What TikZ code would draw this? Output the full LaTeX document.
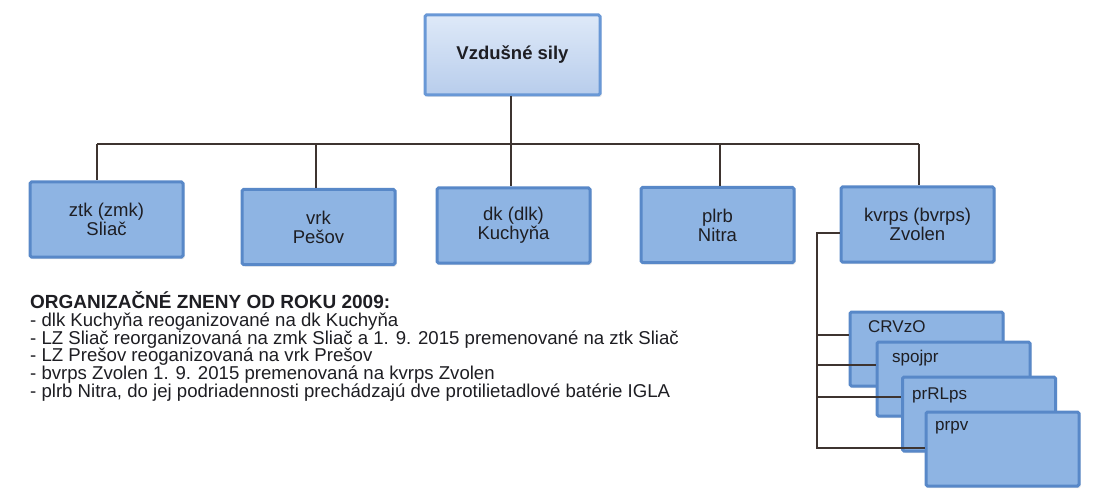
\documentclass[tikz,border=0pt]{standalone}
\usepackage{fontspec}
\setmainfont{Liberation Sans}
\usetikzlibrary{shadows}
\definecolor{boxfill}{RGB}{142,180,227}
\definecolor{boxline}{RGB}{88,136,200}
\definecolor{topfillA}{RGB}{222,233,248}
\definecolor{topfillB}{RGB}{184,205,236}
\definecolor{topline}{RGB}{105,152,214}
\definecolor{conn}{RGB}{62,52,48}
\definecolor{txt}{RGB}{30,30,35}
\tikzset{
  unitbox/.style={draw=boxline, fill=boxfill, line width=3pt, rounded corners=1.5pt,
    minimum width=153pt, minimum height=75pt, align=center, text=txt,
    font=\fontsize{18.5}{19}\selectfont, inner sep=0pt,
    drop shadow={opacity=0.18, shadow xshift=1.5pt, shadow yshift=-2pt}},
  topbox/.style={unitbox, draw=topline, top color=topfillA, bottom color=topfillB,
    minimum width=175pt, minimum height=80pt, font=\bfseries\fontsize{18.5}{20}\selectfont},
  subbox/.style={unitbox, minimum width=153pt, minimum height=74pt},
  sublabel/.style={anchor=west, text=txt, font=\fontsize{17}{19}\selectfont, inner sep=0pt},
  link/.style={draw=conn, line width=2pt},
  note/.style={anchor=base west, text=txt, inner sep=0pt, font=\fontsize{18.6}{18}\selectfont},
  notetitle/.style={note, font=\bfseries\fontsize{19}{18}\selectfont}
}
\begin{document}
\begin{tikzpicture}[x=1pt,y=-1pt]
\useasboundingbox[fill=white] (0,0) rectangle (1093,500);

% top
\node[topbox] (top) at (512.5,55) {Vzdušné sily};

% units
\node[unitbox] (n1) at (106.5,219.5) {ztk (zmk)\\Sliač};
\node[unitbox] (n2) at (318.5,227) {vrk\\Pešov};
\node[unitbox] (n3) at (513.5,225.5) {dk (dlk)\\Kuchyňa};
\node[unitbox] (n4) at (717.5,225) {plrb\\Nitra};
\node[unitbox] (n5) at (917.5,224.5) {kvrps (bvrps)\\Zvolen};

% tree connectors
\coordinate (hub) at (511,144);
\coordinate (d1) at (97,144);
\coordinate (d2) at (316,144);
\coordinate (d3) at (511,144);
\coordinate (d4) at (720,144);
\coordinate (d5) at (919,144);
\draw[link] (hub |- top.south) -- (hub);
\draw[link] (d1) -- (d5);
\foreach \i in {1,...,5} {\draw[link] (d\i) -- (d\i |- n\i.north);}

% sub units
\node[subbox] (c1) at (926.5,349) {};
\node[sublabel] (l1) at (868,327) {CRVzO};
\node[subbox] (c2) at (953.5,379) {};
\node[sublabel] (l2) at (892,358) {spojpr};
\node[subbox] (c3) at (979,414) {};
\node[sublabel] (l3) at (912,395) {prRLps};
\node[subbox] (c4) at (1002.5,449) {};
\node[sublabel] (l4) at (935,428) {prpv};

% sub connectors
\coordinate (k0) at (817,233);
\coordinate (k1) at (817,335);
\coordinate (k2) at (817,365);
\coordinate (k3) at (817,397);
\coordinate (k4) at (817,448);
\draw[link] (n5.west |- k0) -- (k0) -- (k4) -- (k4 -| c4.west);
\draw[link] (k1) -- (k1 -| c1.west);
\draw[link] (k2) -- (k2 -| c2.west);
\draw[link] (k3) -- (k3 -| c3.west);

% notes
\node[notetitle] (t0) at (30,308.5) {ORGANIZAČNÉ ZNENY OD ROKU 2009:};
\node[note] (t1) at (30,326.3) {- dlk Kuchyňa reoganizované na dk Kuchyňa};
\node[note] (t2) at (30,344.1) {- LZ Sliač reorganizovaná na zmk Sliač a 1. 9. 2015 premenované na ztk Sliač};
\node[note] (t3) at (30,361.9) {- LZ Prešov reoganizovaná na vrk Prešov};
\node[note] (t4) at (30,379.7) {- bvrps Zvolen 1. 9. 2015 premenovaná na kvrps Zvolen};
\node[note] (t5) at (30,397.5) {- plrb Nitra, do jej podriadennosti prechádzajú dve protilietadlové batérie IGLA};
\end{tikzpicture}
\end{document}
